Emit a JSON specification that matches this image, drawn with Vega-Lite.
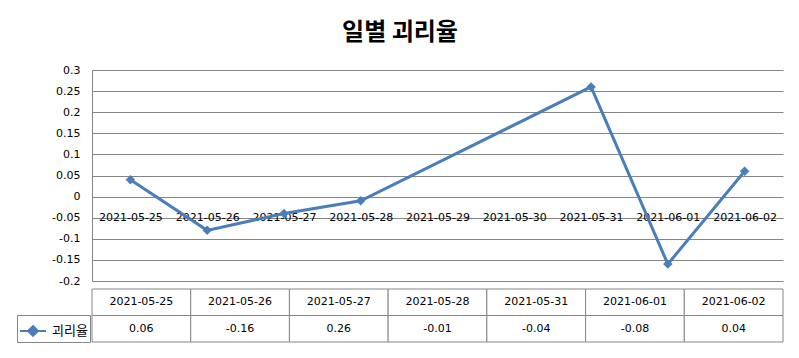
{
  "$schema": "https://vega.github.io/schema/vega-lite/v6.json",
  "padding": {"left": 16, "top": 21, "right": 17, "bottom": 17},
  "background": "white",
  "config": {
    "view": {"stroke": null},
    "locale": {"number": {"decimal": ".", "thousands": ",", "grouping": [3], "currency": ["$", ""], "minus": "-"}}
  },
  "title": {"text": "일별 괴리율", "font": "Noto Sans CJK KR", "fontSize": 24, "fontWeight": "bold", "color": "black", "anchor": "middle", "frame": "bounds", "offset": 19},
  "datasets": {
    "series": [
      {"date": "2021-05-25", "rate": 0.04},
      {"date": "2021-05-26", "rate": -0.08},
      {"date": "2021-05-27", "rate": -0.04},
      {"date": "2021-05-28", "rate": -0.01},
      {"date": "2021-05-31", "rate": 0.26},
      {"date": "2021-06-01", "rate": -0.16},
      {"date": "2021-06-02", "rate": 0.06}
    ],
    "table": [
      {"date": "2021-05-25", "rate": 0.06},
      {"date": "2021-05-26", "rate": -0.16},
      {"date": "2021-05-27", "rate": 0.26},
      {"date": "2021-05-28", "rate": -0.01},
      {"date": "2021-05-31", "rate": -0.04},
      {"date": "2021-06-01", "rate": -0.08},
      {"date": "2021-06-02", "rate": 0.04}
    ]
  },
  "vconcat": [
    {
      "width": 691,
      "height": 211,
      "data": {"name": "series"},
      "encoding": {
        "x": {
          "field": "date", "type": "ordinal",
          "scale": {"type": "point", "padding": 0.5, "domain": ["2021-05-25", "2021-05-26", "2021-05-27", "2021-05-28", "2021-05-29", "2021-05-30", "2021-05-31", "2021-06-01", "2021-06-02"]},
          "axis": {"orient": "bottom", "offset": -84, "domain": false, "ticks": false, "grid": false, "labelAngle": 0, "labelPadding": 14, "title": null, "labelFont": "DejaVu Sans", "labelFontSize": 11, "labelColor": "black"}
        },
        "y": {
          "field": "rate", "type": "quantitative",
          "scale": {"domain": [-0.2, 0.3], "nice": false, "zero": false},
          "axis": {"values": [-0.2, -0.15, -0.1, -0.05, 0, 0.05, 0.1, 0.15, 0.2, 0.25, 0.3], "format": "~g", "grid": true, "gridColor": "#868686", "gridOpacity": 1, "domainColor": "#868686", "ticks": false, "labelPadding": 12, "title": null, "labelFont": "DejaVu Sans", "labelFontSize": 11, "labelColor": "black"}
        },
        "color": {
          "datum": "괴리율", "type": "nominal",
          "scale": {"range": ["#4A7EBB"]},
          "legend": {"orient": "none", "legendX": -75, "legendY": 245, "title": null, "symbolType": "M-1,0H1M0,-0.38L0.38,0L0,0.38L-0.38,0Z", "symbolSize": 676, "symbolStrokeWidth": 2, "symbolStrokeColor": "#4A7EBB", "symbolFillColor": "#4A7EBB", "labelFont": "Noto Sans CJK KR", "labelFontSize": 13, "labelColor": "black", "labelOffset": 5, "padding": 2, "strokeColor": "#868686", "fillColor": "white"}
        }
      },
      "layer": [
        {"mark": {"type": "line", "strokeWidth": 3}},
        {"mark": {"type": "point", "shape": "diamond", "filled": true, "size": 90, "opacity": 1}}
      ]
    },
    {
      "width": 691,
      "height": 53,
      "data": {"name": "table"},
      "encoding": {
        "x": {"field": "date", "type": "nominal", "sort": null, "scale": {"type": "band", "paddingInner": 0, "paddingOuter": 0}, "axis": null}
      },
      "layer": [
        {
          "mark": {"type": "rect", "fill": "white", "stroke": "#868686", "strokeWidth": 1},
          "encoding": {"y": {"datum": "h", "type": "nominal", "scale": {"type": "band", "domain": ["h", "v"], "paddingInner": 0, "paddingOuter": 0}, "axis": null}}
        },
        {
          "mark": {"type": "rect", "fill": "white", "stroke": "#868686", "strokeWidth": 1},
          "encoding": {"y": {"datum": "v", "type": "nominal"}}
        },
        {
          "mark": {"type": "text", "font": "DejaVu Sans", "fontSize": 11, "color": "black"},
          "encoding": {"y": {"datum": "h", "type": "nominal"}, "text": {"field": "date"}}
        },
        {
          "mark": {"type": "text", "font": "DejaVu Sans", "fontSize": 11, "color": "black"},
          "encoding": {"y": {"datum": "v", "type": "nominal"}, "text": {"field": "rate", "type": "quantitative", "format": "~g"}}
        }
      ]
    }
  ],
  "spacing": 8,
  "bounds": "flush"
}
